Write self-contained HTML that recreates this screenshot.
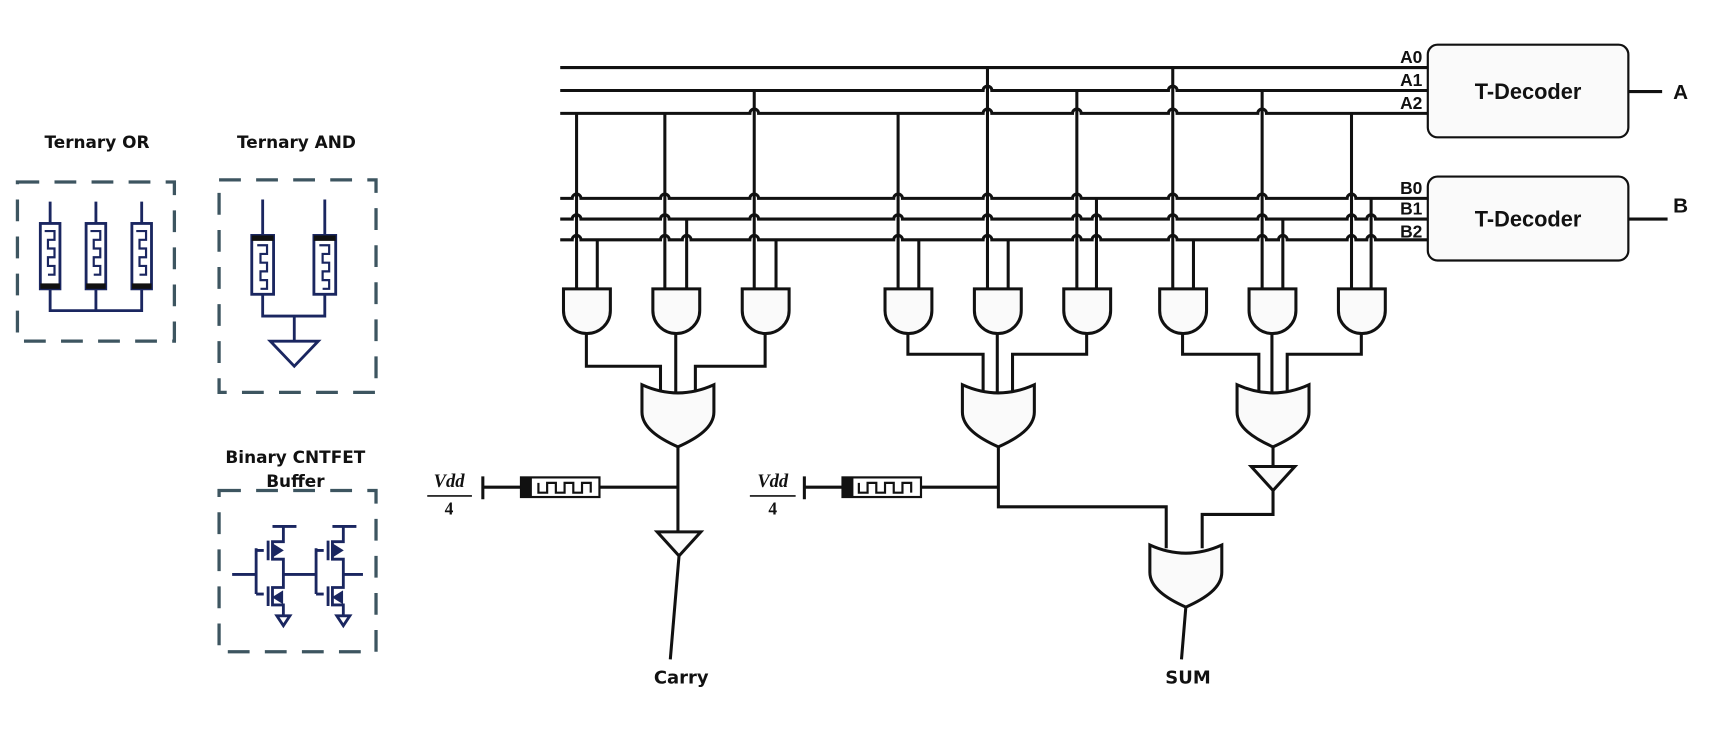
<!DOCTYPE html>
<html><head><meta charset="utf-8"><style>
html,body{margin:0;padding:0;background:#fff}
svg{display:block}
text{font-family:"DejaVu Sans","Liberation Sans",sans-serif;font-weight:bold}
text.ls{font-family:"Liberation Sans",sans-serif}
text.sf{font-family:"Liberation Serif",serif}
</style></head><body>
<svg width="1709" height="733" viewBox="0 0 1568 672.5" preserveAspectRatio="none" xmlns="http://www.w3.org/2000/svg">
<rect width="1568" height="673" fill="#fff"/>
<g fill="none" stroke="#3d5560" stroke-width="3" stroke-dasharray="20 14">
<rect x="16" y="167" width="144" height="146"/>
<rect x="201" y="165" width="144" height="195"/>
<rect x="201" y="450" width="144" height="148"/>
</g>
<g font-size="15.5" text-anchor="middle" fill="#111">
<text x="89" y="136">Ternary OR</text>
<text x="272" y="136">Ternary AND</text>
<text x="271" y="425">Binary CNTFET</text>
<text x="271" y="447">Buffer</text>
</g>
<g stroke="#1a2660" stroke-width="2.6" fill="none">
<path d="M46 185V205M88 185V205M130 185V205M46 265V285H130V265M88 265V285"/>
<rect x="37" y="205" width="18" height="60" fill="#fff"/>
<rect x="79" y="205" width="18" height="60" fill="#fff"/>
<rect x="121" y="205" width="18" height="60" fill="#fff"/>
<path d="M41 212h9v8h-6v8h6v8h-6v8h6v8h-6M83 212h9v8h-6v8h6v8h-6v8h6v8h-6M125 212h9v8h-6v8h6v8h-6v8h6v8h-6" stroke-width="2"/>
<path d="M241 183V216M298 183V216M241 270V290H298V270M270 290V313M248 313H292L270 336Z"/>
<rect x="231" y="216" width="20" height="54" fill="#fff"/>
<rect x="288" y="216" width="20" height="54" fill="#fff"/>
<path d="M236 225h9v8h-6v8h6v8h-6v8h6v8h-6M293 225h9v8h-6v8h6v8h-6v8h6v8h-6" stroke-width="2"/>
<path d="M213 527H235M235 503V545M235 505H242M235 545H242M246 496V514M246 538V556M250 483H272M260 483V497H250V513H260V539H250V555H260V565M254 565H266L260 574Z"/>
<path d="M260 527H290M290 503V545M290 505H297M290 545H297M301 496V514M301 538V556M305 483H327M315 483V497H305V513H315V539H305V555H315V565M309 565H321L315 574ZM315 527H333"/>
<path d="M251 500L259 505L251 510ZM306 500L314 505L306 510ZM259 543L251 548L259 553ZM314 543L306 548L314 553Z" fill="#1a2660" stroke-width="1.5"/>
</g>
<g fill="#111"><rect x="37" y="260" width="18" height="5"/><rect x="79" y="260" width="18" height="5"/><rect x="121" y="260" width="18" height="5"/><rect x="231" y="216" width="20" height="5"/><rect x="288" y="216" width="20" height="5"/></g>

<g stroke="#111" stroke-width="2.8" fill="none">
<path d="M514 62H1310"/>
<path d="M514 83H902A4 4 0 0 1 910 83H1072A4 4 0 0 1 1080 83H1310"/>
<path d="M514 104H688A4 4 0 0 1 696 104H902A4 4 0 0 1 910 104H984A4 4 0 0 1 992 104H1072A4 4 0 0 1 1080 104H1154A4 4 0 0 1 1162 104H1310"/>
<path d="M514 182H525A4 4 0 0 1 533 182H606A4 4 0 0 1 614 182H688A4 4 0 0 1 696 182H820A4 4 0 0 1 828 182H902A4 4 0 0 1 910 182H984A4 4 0 0 1 992 182H1072A4 4 0 0 1 1080 182H1154A4 4 0 0 1 1162 182H1236A4 4 0 0 1 1244 182H1310"/>
<path d="M514 201H525A4 4 0 0 1 533 201H606A4 4 0 0 1 614 201H688A4 4 0 0 1 696 201H820A4 4 0 0 1 828 201H902A4 4 0 0 1 910 201H984A4 4 0 0 1 992 201H1002A4 4 0 0 1 1010 201H1072A4 4 0 0 1 1080 201H1154A4 4 0 0 1 1162 201H1236A4 4 0 0 1 1244 201H1254A4 4 0 0 1 1262 201H1310"/>
<path d="M514 220H525A4 4 0 0 1 533 220H606A4 4 0 0 1 614 220H626A4 4 0 0 1 634 220H688A4 4 0 0 1 696 220H820A4 4 0 0 1 828 220H902A4 4 0 0 1 910 220H984A4 4 0 0 1 992 220H1002A4 4 0 0 1 1010 220H1072A4 4 0 0 1 1080 220H1154A4 4 0 0 1 1162 220H1173A4 4 0 0 1 1181 220H1236A4 4 0 0 1 1244 220H1254A4 4 0 0 1 1262 220H1310"/>
<path d="M529 104V265M610 104V265M692 83V265M824 104V265M906 62V265M988 83V265M1076 62V265M1158 83V265M1240 104V265"/>
<path d="M548 220V265M630 201V265M712 220V265M843 220V265M925 220V265M1006 182V265M1095 220V265M1177 201V265M1258 182V265"/>
<g fill="#fafafa">
<path d="M517 265H560V285A21.5 21 0 0 1 517 285Z"/>
<path d="M599 265H642V285A21.5 21 0 0 1 599 285Z"/>
<path d="M681 265H724V285A21.5 21 0 0 1 681 285Z"/>
<path d="M812 265H855V285A21.5 21 0 0 1 812 285Z"/>
<path d="M894 265H937V285A21.5 21 0 0 1 894 285Z"/>
<path d="M976 265H1019V285A21.5 21 0 0 1 976 285Z"/>
<path d="M1064 265H1107V285A21.5 21 0 0 1 1064 285Z"/>
<path d="M1146 265H1189V285A21.5 21 0 0 1 1146 285Z"/>
<path d="M1228 265H1271V285A21.5 21 0 0 1 1228 285Z"/>
</g>
<path d="M538 306V336H606V360M620 306V360M702 306V336H638V360"/>
<path d="M833 306V325H902V360M915 306V360M997 306V325H929V360"/>
<path d="M1085 306V325H1155V360M1167 306V360M1249 306V325H1181V360"/>
<g fill="#fafafa">
<path d="M589 353Q622 368 655 353V378C655 392 640 402 622 410C604 402 589 392 589 378Z"/>
<path d="M883 353Q916 368 949 353V378C949 392 934 402 916 410C898 402 883 392 883 378Z"/>
<path d="M1135 353Q1168 368 1201 353V378C1201 392 1186 402 1168 410C1150 402 1135 392 1135 378Z"/>
<path d="M1055 500Q1088 515 1121 500V525C1121 539 1106 549 1088 557C1070 549 1055 539 1055 525Z"/>
</g>
<path d="M622 410V488M603 488H643L623 510Z" fill="#fafafa"/>
<path d="M623 510L615 605"/>
<path d="M916 410V465H1070V503"/>
<path d="M1168 410V428M1148 428H1188L1168 450Z" fill="#fafafa"/>
<path d="M1168 450V472H1103V503"/>
<path d="M1088 557L1084 605"/>
<path d="M443 437V458M443 447H478M550 447H622"/>
<path d="M738 437V458M738 447H773M845 447H916"/>
<path d="M392 455H433M688 455H730" stroke-width="1.5"/>
<rect x="1310" y="41" width="184" height="85" rx="9" fill="#fafafa" stroke-width="2"/>
<rect x="1310" y="162" width="184" height="77" rx="9" fill="#fafafa" stroke-width="2"/>
<path d="M1494 84H1525M1494 201H1530"/>
</g>
<g stroke="#111" stroke-width="2" fill="#fff">
<rect x="478" y="438" width="72" height="18"/>
<rect x="773" y="438" width="72" height="18"/>
</g>
<rect x="478" y="438" width="10" height="18" fill="#111"/>
<rect x="773" y="438" width="10" height="18" fill="#111"/>
<path d="M494 443V452H502V443H510V452H518V443H526V452H534V443H542V452M788 443V452H796V443H804V452H812V443H820V452H828V443H836V452" stroke="#111" stroke-width="2" fill="none"/>
<g fill="#111" font-size="15">
<text class="sf" x="412" y="447" text-anchor="middle" font-style="italic" font-size="17">Vdd</text>
<text class="sf" x="412" y="472" text-anchor="middle" font-size="16">4</text>
<text class="sf" x="709" y="447" text-anchor="middle" font-style="italic" font-size="17">Vdd</text>
<text class="sf" x="709" y="472" text-anchor="middle" font-size="16">4</text>
<text class="ls" x="1305" y="58" text-anchor="end" font-size="16">A0</text>
<text class="ls" x="1305" y="79" text-anchor="end" font-size="16">A1</text>
<text class="ls" x="1305" y="100" text-anchor="end" font-size="16">A2</text>
<text class="ls" x="1305" y="178" text-anchor="end" font-size="16">B0</text>
<text class="ls" x="1305" y="197" text-anchor="end" font-size="16">B1</text>
<text class="ls" x="1305" y="218" text-anchor="end" font-size="16">B2</text>
<text class="ls" x="1402" y="91" text-anchor="middle" font-size="20">T-Decoder</text>
<text class="ls" x="1402" y="208" text-anchor="middle" font-size="20">T-Decoder</text>
<text class="ls" x="1542" y="91" text-anchor="middle" font-size="19">A</text>
<text class="ls" x="1542" y="195" text-anchor="middle" font-size="19">B</text>
<text x="625" y="627" text-anchor="middle" font-size="16.5">Carry</text>
<text x="1090" y="627" text-anchor="middle" font-size="16.5">SUM</text>
</g>
</svg>
</body></html>
